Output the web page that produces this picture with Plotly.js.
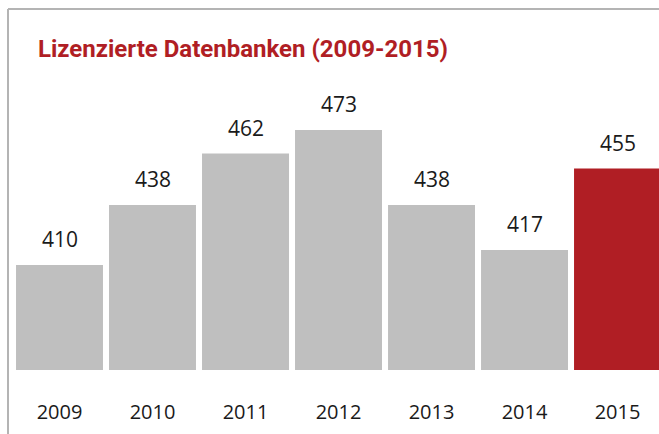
<!DOCTYPE html>
<html>
<head>
<meta charset="utf-8">
<script src="https://cdn.plot.ly/plotly-3.0.1.min.js"></script>
<style>html,body{margin:0;padding:0;background:#fff;}#chart{width:659px;height:434px;}</style>
</head>
<body>
<div id="chart"></div>
<script>
const years = ['2009', '2010', '2011', '2012', '2013', '2014', '2015'];
const counts = [410, 438, 462, 473, 438, 417, 455];
const barColors = ['#bfbfbf', '#bfbfbf', '#bfbfbf', '#bfbfbf', '#bfbfbf', '#bfbfbf', '#b01e24'];
const titleText = 'Lizenzierte Datenbanken (2009-2015)';

const trace = {
  type: 'bar',
  x: years,
  y: counts,
  marker: {color: barColors, line: {width: 0}},
  hoverinfo: 'none'
};

const annotations = years.map((yr, i) => ({
  x: i, y: counts[i], xref: 'x', yref: 'y',
  text: String(counts[i]), showarrow: false,
  xanchor: 'center', yanchor: 'bottom', yshift: 10,
  font: {family: 'Open Sans, sans-serif', size: 21, color: '#1a1a1a'}
}));

const W = 646, H = 270;
const layout = {
  width: 659, height: 434,
  margin: {l: 13, r: 0, t: 100, b: 64},
  paper_bgcolor: '#fff', plot_bgcolor: '#fff',
  showlegend: false,
  bargap: 0.065,
  title: {
    text: '<b>' + titleText + '</b>',
    x: 38 / 659, xanchor: 'left', xref: 'container',
    y: 1 - 49 / 434, yanchor: 'middle', yref: 'container',
    font: {family: 'Roboto, sans-serif', size: 24, color: '#b01e24'}
  },
  xaxis: {
    type: 'category',
    range: [-0.5, 6.446],
    showgrid: false, zeroline: false, showline: false,
    ticks: 'outside', ticklen: 24, tickcolor: 'rgba(0,0,0,0)',
    tickfont: {family: 'Open Sans, sans-serif', size: 20, color: '#1a1a1a'},
    fixedrange: true
  },
  yaxis: {
    range: [361, 487],
    visible: false, showgrid: false, zeroline: false,
    fixedrange: true
  },
  annotations: annotations,
  shapes: [
    {type: 'line', xref: 'paper', yref: 'paper',
     x0: (8 - 13) / W, x1: (8 - 13) / W, y0: (370 - 9) / H, y1: (370 - 440) / H,
     line: {color: '#b4b4b4', width: 2}},
    {type: 'line', xref: 'paper', yref: 'paper',
     x0: (8 - 13) / W, x1: (665 - 13) / W, y0: (370 - 9) / H, y1: (370 - 9) / H,
     line: {color: '#b4b4b4', width: 2}}
  ]
};

Plotly.newPlot('chart', [trace], layout, {displayModeBar: false, staticPlot: true});
</script>
</body>
</html>
